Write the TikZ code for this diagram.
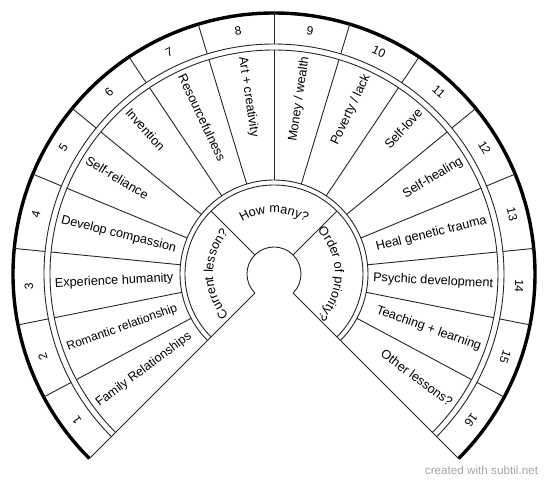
\documentclass[tikz,border=0pt]{standalone}
\usepackage{fontspec}
\setmainfont{Liberation Sans}
\usetikzlibrary{decorations.text}

\begin{document}
\begin{tikzpicture}[x=1pt, y=1pt,
    ring/.style={draw=black!85, line width=0.9pt},
    lbl/.style={font=\fontsize{12.7}{15}\selectfont, inner sep=0pt},
    num/.style={font=\fontsize{12}{14}\selectfont, inner sep=0pt},
    wm/.style={font=\fontsize{11.7}{14}\selectfont, text=black!35}]
  \useasboundingbox (-274,-208) rectangle (276,274);
  % Rings
  \foreach \r in {27,89,94,224,230}
    \draw[ring] (225:\r) arc[start angle=225, end angle=-45, radius=\r];
  \draw[line width=3.4pt] (225:261) arc[start angle=225, end angle=-45, radius=261];
  % Side edges
  \draw[ring] (225:27) -- (225:261);
  \draw[ring] (-45:27) -- (-45:261);
  % Dividers
  \foreach \k in {1,...,15} {
    \pgfmathsetmacro\a{225-\k*16.875}
    \draw[ring] (\a:94) -- (\a:224);
    \draw[ring] (\a:230) -- (\a:261);
  }
  \draw[ring] (135:27) -- (135:89);
  \draw[ring] (45:27) -- (45:89);
  % Numbers
  \foreach \k in {1,...,16} {
    \pgfmathsetmacro\a{225-(\k-0.5)*16.875}
    \node[num, rotate=\a-90] (n\k) at (\a:245.5) {\k};
  }
  % Lessons, left half
  \foreach \k/\txt in {1/{\fontsize{12.5}{15}\selectfont Family Relationships},
      2/{\fontsize{12.1}{15}\selectfont Romantic relationship},
      3/Experience humanity, 4/Develop compassion, 5/Self-reliance,
      6/Invention, 7/Resourcefulness, 8/Art + creativity} {
    \pgfmathsetmacro\a{225-(\k-0.5)*16.875}
    \node[lbl, rotate=\a+180, anchor=mid west] (l\k) at (\a:219.5) {\txt};
  }
  % Lessons, right half
  \foreach \k/\txt in {9/{Money / wealth}, 10/{Poverty / lack}, 11/Self-love,
      12/Self-healing, 13/Heal genetic trauma, 14/Psychic development,
      15/Teaching + learning, 16/Other lessons?} {
    \pgfmathsetmacro\a{225-(\k-0.5)*16.875}
    \node[lbl, rotate=\a, anchor=mid east] (l\k) at (\a:219.5) {\txt};
  }
  % Inner questions
  \path[decorate, decoration={text along path, text align=center,
      text={|\fontsize{12.7}{15}\selectfont|Current lesson?}}]
    (240:61) arc[start angle=240, end angle=120, radius=61];
  \path[decorate, decoration={text along path, text align=center,
      text={|\fontsize{12.7}{15}\selectfont|How many?}}]
    (150:61) arc[start angle=150, end angle=30, radius=61];
  \path[decorate, decoration={text along path, text align=center,
      text={|\fontsize{12.7}{15}\selectfont|Order of priority?}}]
    (60:61) arc[start angle=60, end angle=-60, radius=61];
  % Watermark
  \node[wm] (mark) at (207.5,-196) {created with subtil.net};
\end{tikzpicture}
\end{document}
